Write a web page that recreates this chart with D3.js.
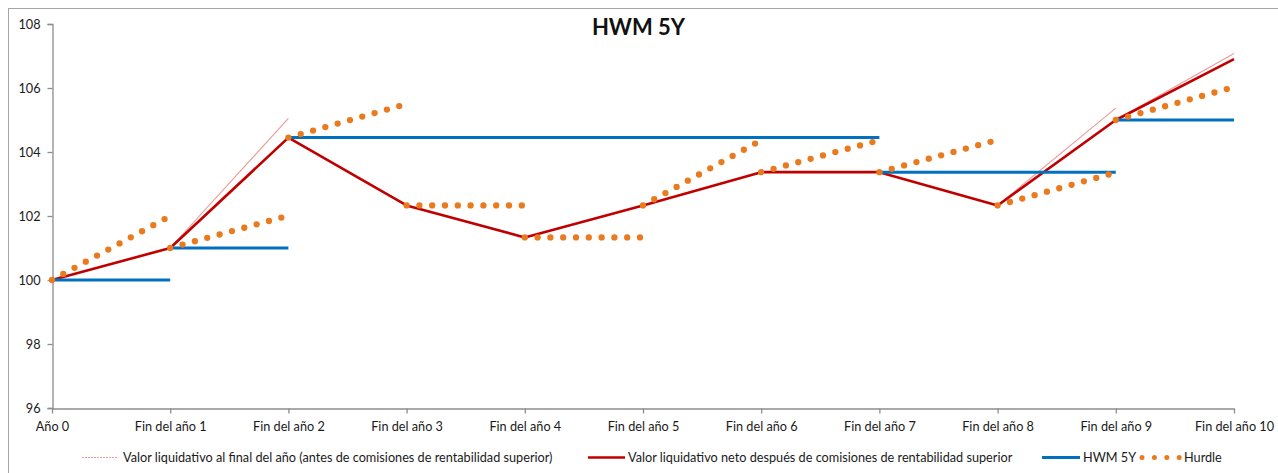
<!DOCTYPE html>
<html>
<head>
<meta charset="utf-8">
<script src="https://cdn.jsdelivr.net/npm/d3@7"></script>
<style>
  html, body { margin: 0; padding: 0; background: #fff; }
  svg { display: block; }
  text { font-family: Lato, "Open Sans", sans-serif; fill: #1a1a1a; }
</style>
</head>
<body>
<svg id="chart" width="1278" height="473"></svg>
<script>
// ---------------- data ----------------
const categories = ["Año 0", "Fin del año 1", "Fin del año 2", "Fin del año 3", "Fin del año 4",
  "Fin del año 5", "Fin del año 6", "Fin del año 7", "Fin del año 8", "Fin del año 9", "Fin del año 10"];

// net asset value after performance fees (end of each year)
const netValue = [100, 101, 104.45, 102.33, 101.33, 102.33, 103.37, 103.37, 102.33, 105.0, 106.9];

// asset value at year end before performance fees (segment from previous net value)
const grossValue = [null, 101, 105.05, 102.33, 101.33, 102.33, 103.37, 103.37, 102.33, 105.37, 107.08];

// high water mark (5Y) during each year (year i -> i+1)
const hwmValue = [100, 101, 104.45, 104.45, 104.45, 104.45, 104.45, 103.37, 103.37, 105.0];

// hurdle: start and end value during each year (year i -> i+1)
const hurdleStart = [100, 101, 104.45, 102.33, 101.33, 102.33, 103.37, 103.37, 102.33, 105.0];
const hurdleEnd   = [102, 102.01, 105.5, 102.33, 101.33, 104.37, 104.37, 104.38, 103.36, 106.03];

const yTicks = [96, 98, 100, 102, 104, 106, 108];

const seriesNames = [
  "Valor liquidativo al final del año (antes de comisiones de rentabilidad superior)",
  "Valor liquidativo neto después de comisiones de rentabilidad superior",
  "HWM 5Y",
  "Hurdle"
];

// ---------------- chart ----------------
const svg = d3.select("#chart");
const C = { gross: "#ec9a9a", net: "#c00000", hwm: "#0070c0", hurdle: "#e97a1e", axis: "#8c8c8c" };
const FS = "12.7px";

const x = d3.scalePoint().domain(categories).range([52, 1234]).padding(0);
const y = d3.scaleLinear().domain([96, 108]).range([408, 24]);

// outer border
svg.append("rect").attr("x", 8.5).attr("y", 8.5).attr("width", 1300).attr("height", 500)
  .attr("fill", "none").attr("stroke", "#a6a6a6").attr("stroke-width", 1);

// title
svg.append("text").attr("x", 638.5).attr("y", 35).attr("text-anchor", "middle")
  .style("font-size", "22px").style("font-weight", "bold").style("fill", "#111")
  .text("HWM 5Y");

// y axis
const yAxis = d3.axisLeft(y).tickValues(yTicks).tickSize(5).tickPadding(7).tickFormat(d3.format("d"));
const gy = svg.append("g").attr("transform", "translate(52.5,0)").call(yAxis);
gy.select(".domain").attr("stroke", C.axis).attr("stroke-width", 1.3);
gy.selectAll(".tick line").attr("stroke", C.axis).attr("stroke-width", 1.3);
gy.selectAll(".tick text").style("font-size", FS).style("font-family", "Lato, sans-serif").attr("fill", "#1a1a1a");

// x axis
const xAxis = d3.axisBottom(x).tickSize(5).tickPadding(8).tickSizeOuter(0);
const gx = svg.append("g").attr("transform", "translate(0,408.5)").call(xAxis);
gx.select(".domain").attr("stroke", C.axis).attr("stroke-width", 1.3);
gx.selectAll(".tick line").attr("stroke", C.axis).attr("stroke-width", 1.3);
gx.selectAll(".tick text").style("font-size", FS).style("font-family", "Lato, sans-serif").attr("fill", "#1a1a1a");

const line = d3.line().x(d => d[0]).y(d => d[1]);

// gross segments
const grossSegs = [];
for (let i = 1; i < categories.length; i++) {
  grossSegs.push([[x(categories[i - 1]), y(netValue[i - 1])], [x(categories[i]), y(grossValue[i])]]);
}
svg.append("g").selectAll("path").data(grossSegs).join("path")
  .attr("d", line).attr("fill", "none").attr("stroke", C.gross).attr("stroke-width", 1.1);

// net line
svg.append("path")
  .attr("d", d3.line().x((d, i) => x(categories[i])).y(d => y(d))(netValue))
  .attr("fill", "none").attr("stroke", C.net).attr("stroke-width", 2.6).attr("stroke-linejoin", "round");

// HWM segments (merge consecutive equal values)
const hwmSegs = [];
hwmValue.forEach((v, i) => {
  const last = hwmSegs[hwmSegs.length - 1];
  if (last && last.v === v) last.end = i + 1;
  else hwmSegs.push({ v: v, start: i, end: i + 1 });
});
svg.append("g").selectAll("path").data(hwmSegs).join("path")
  .attr("d", s => line([[x(categories[s.start]), y(s.v)], [x(categories[s.end]), y(s.v)]]))
  .attr("fill", "none").attr("stroke", C.hwm).attr("stroke-width", 3);

// hurdle segments (round dots)
const hurdleSegs = hurdleStart.map((v, i) => [[x(categories[i]), y(v)], [x(categories[i + 1]), y(hurdleEnd[i])]]);
svg.append("g").selectAll("path").data(hurdleSegs).join("path")
  .attr("d", line).attr("fill", "none").attr("stroke", C.hurdle).attr("stroke-width", 6.3)
  .attr("stroke-linecap", "round").attr("stroke-dasharray", "0 12.8");

// legend
const ly = 457.5;
const lg = svg.append("g");
const legendItems = [
  { name: seriesNames[0], x0: 82, x1: 117, tx: 123, type: "gross" },
  { name: seriesNames[1], x0: 588, x1: 625, tx: 628, type: "net" },
  { name: seriesNames[2], x0: 1042, x1: 1080, tx: 1083, type: "hwm" },
  { name: seriesNames[3], x0: 1142, x1: 1180, tx: 1184, type: "hurdle" }
];
legendItems.forEach(it => {
  const l = lg.append("line").attr("x1", it.x0).attr("x2", it.x1).attr("y1", ly).attr("y2", ly);
  if (it.type === "gross") l.attr("stroke", C.gross).attr("stroke-width", 1).attr("stroke-dasharray", "2 1");
  if (it.type === "net") l.attr("stroke", C.net).attr("stroke-width", 2.6);
  if (it.type === "hwm") l.attr("stroke", C.hwm).attr("stroke-width", 3);
  if (it.type === "hurdle") l.attr("stroke", C.hurdle).attr("stroke-width", 5)
    .attr("stroke-linecap", "round").attr("stroke-dasharray", "0 12.4");
  lg.append("text").attr("x", it.tx).attr("y", ly).attr("dy", "0.35em")
    .style("font-size", FS).text(it.name);
});
</script>
</body>
</html>
